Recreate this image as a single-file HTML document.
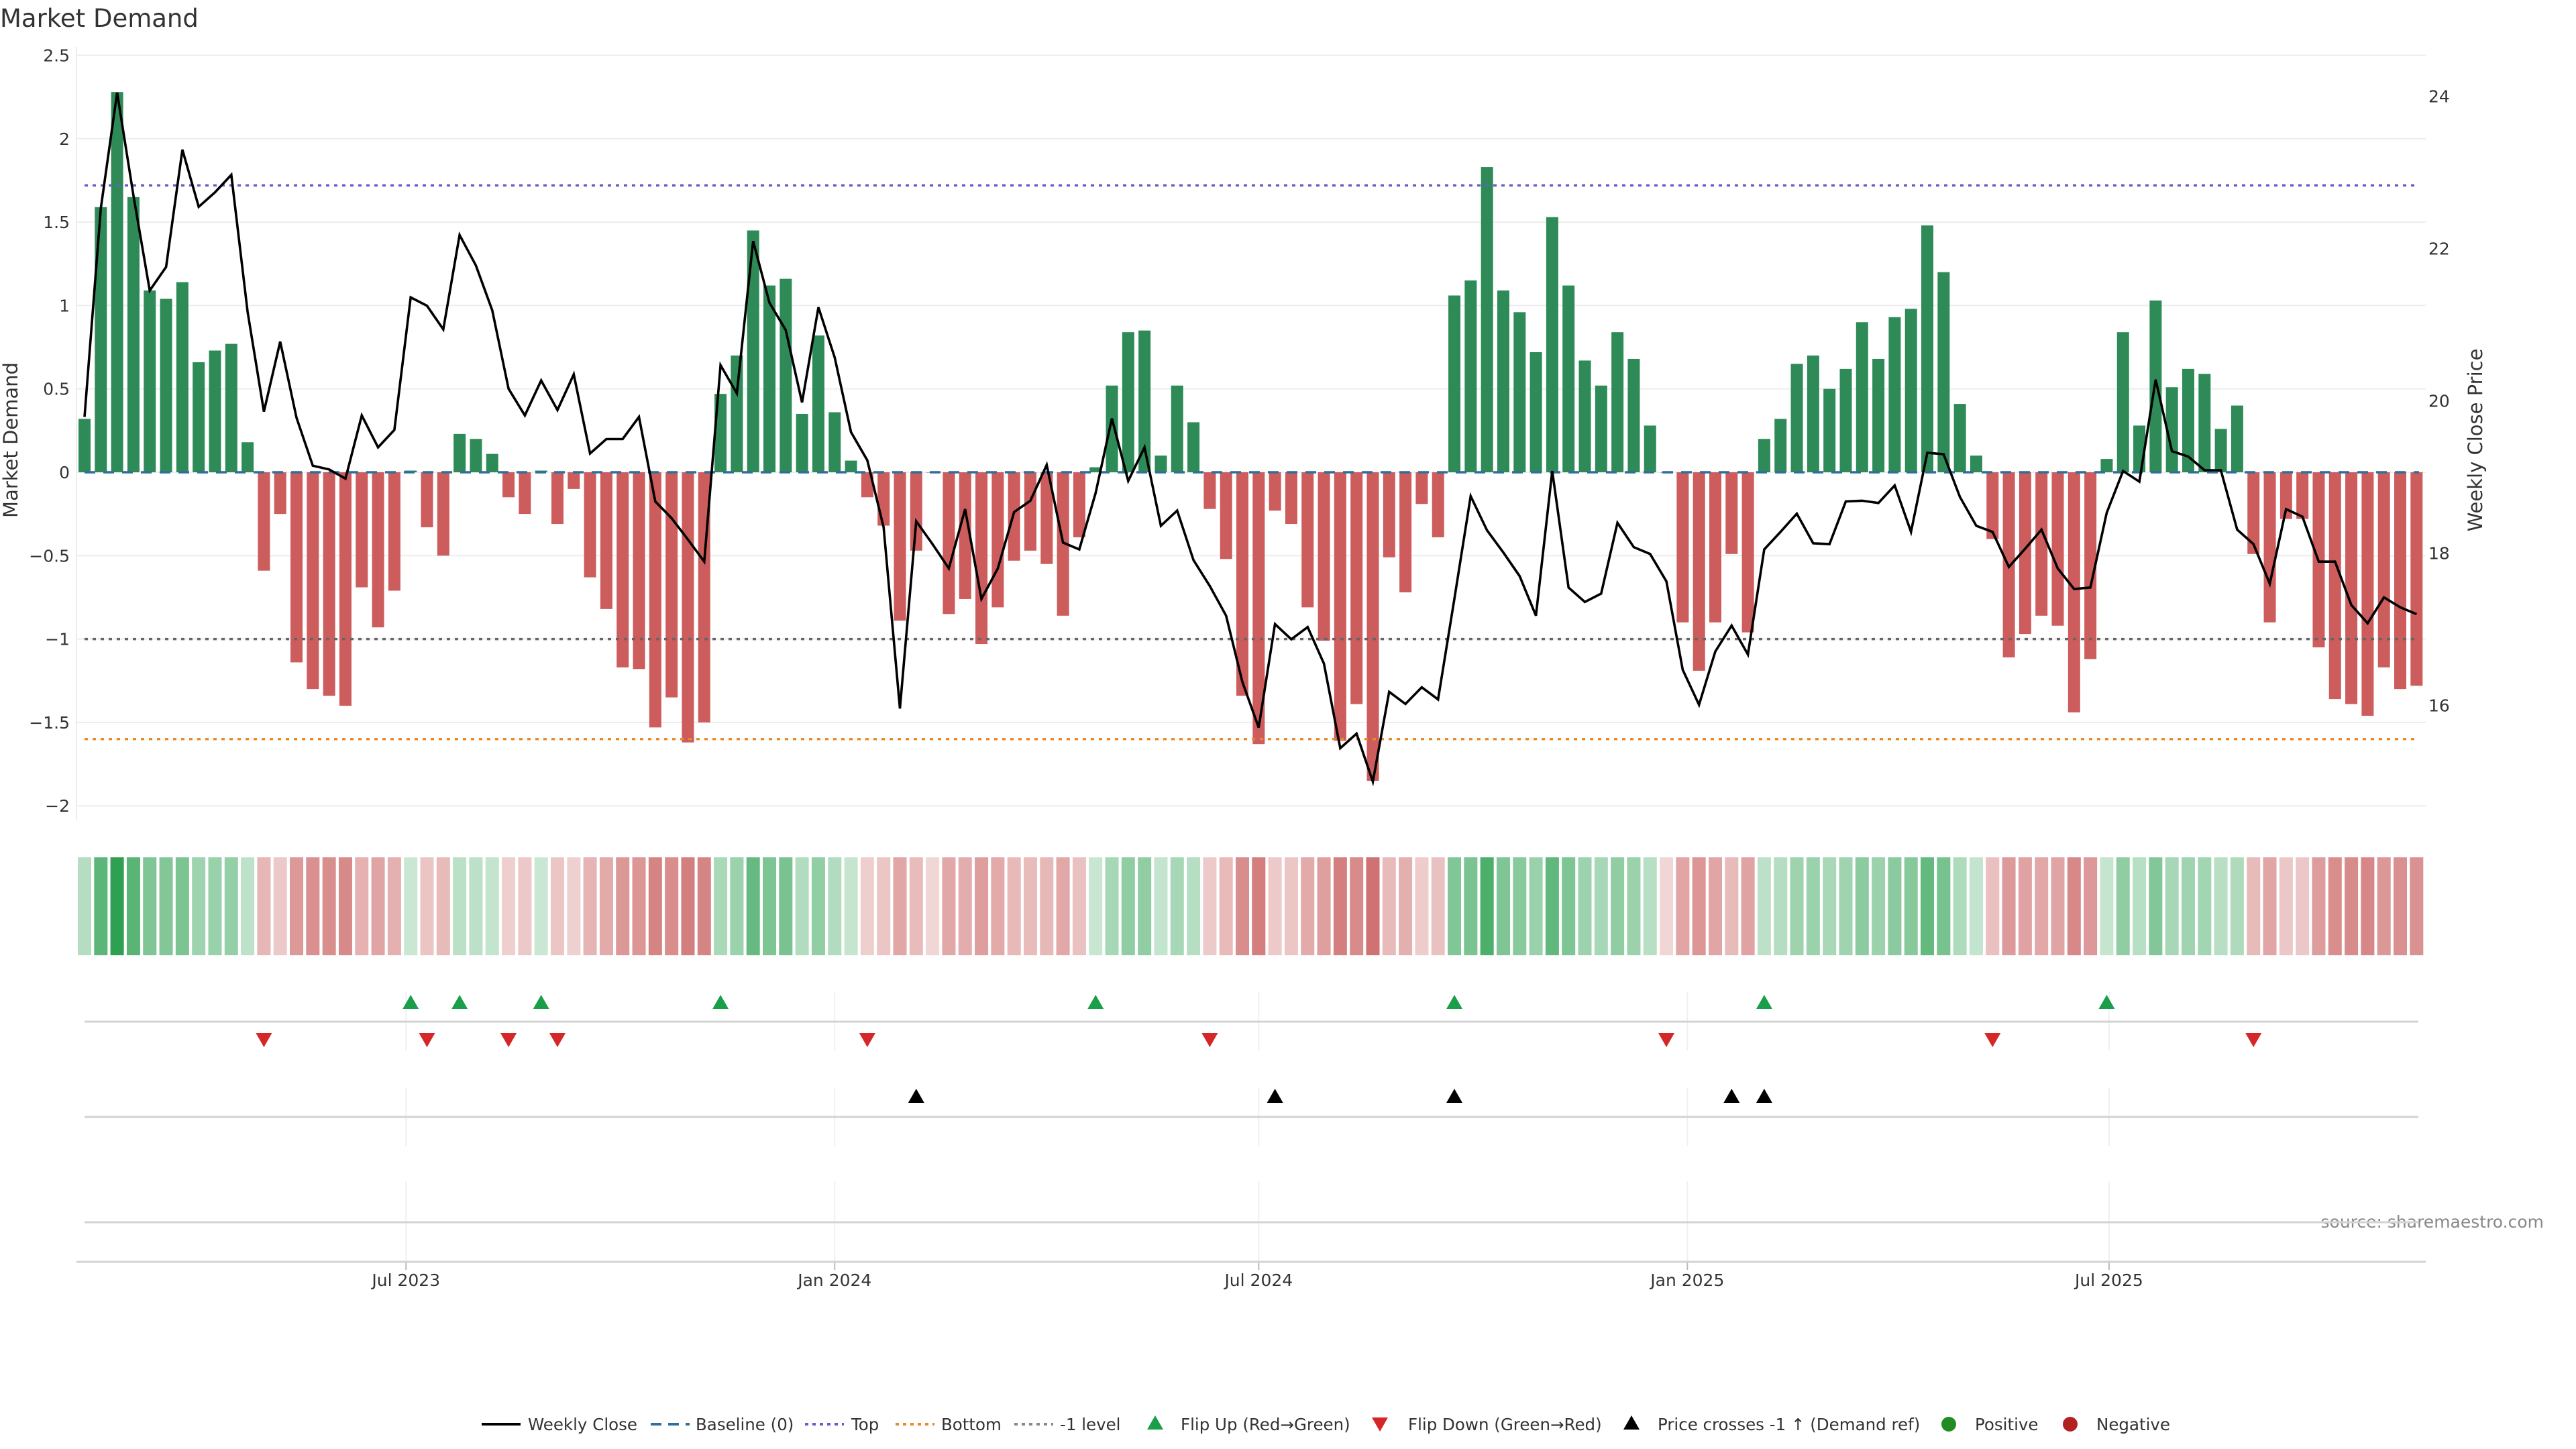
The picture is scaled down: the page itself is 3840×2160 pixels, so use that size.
<!DOCTYPE html>
<html><head><meta charset="utf-8"><title>Market Demand</title>
<style>
html,body{margin:0;padding:0;background:#fff;}
svg{display:block;font-family:"DejaVu Sans","Liberation Sans",sans-serif;}
</style></head>
<body>
<svg id="chart" xmlns="http://www.w3.org/2000/svg" width="3840" height="2160" viewBox="0 0 3840 2160">
<rect x="0" y="0" width="3840" height="2160" fill="#ffffff"/>
<text x="0" y="40" font-size="37" fill="#333">Market Demand</text>
<text transform="translate(26,656) rotate(-90)" text-anchor="middle" font-size="29" fill="#333">Market Demand</text>
<text transform="translate(3700,656) rotate(-90)" text-anchor="middle" font-size="29" fill="#333">Weekly Close Price</text>
<text x="3792" y="1830" text-anchor="end" font-size="25" fill="#888">source: sharemaestro.com</text>
<g id="grid"></g>
<g id="bars"></g>
<g id="refs"></g>
<g id="priceg"></g>
<g id="heat"></g>
<g id="markers"></g>
<g id="axes"></g>
<g id="legend"></g>
</svg>
<script>
const demand = [0.32,1.59,2.28,1.65,1.09,1.04,1.14,0.66,0.73,0.77,0.18,
-0.59,-0.25,-1.14,-1.30,-1.34,-1.40,-0.69,-0.93,-0.71,
0.01,-0.33,-0.50,0.23,0.20,0.11,-0.15,-0.25,0.01,-0.31,-0.10,-0.63,-0.82,-1.17,-1.18,-1.53,-1.35,-1.62,-1.50,
0.47,0.70,1.45,1.12,1.16,0.35,0.82,0.36,0.07,
-0.15,-0.32,-0.89,-0.47,0,-0.85,-0.76,-1.03,-0.81,-0.53,-0.47,-0.55,-0.86,-0.39,
0.03,0.52,0.84,0.85,0.10,0.52,0.30,
-0.22,-0.52,-1.34,-1.63,-0.23,-0.31,-0.81,-1.01,-1.61,-1.39,-1.85,-0.51,-0.72,-0.19,-0.39,
1.06,1.15,1.83,1.09,0.96,0.72,1.53,1.12,0.67,0.52,0.84,0.68,
0.28,0,
-0.90,-1.19,-0.90,-0.49,-0.96,
0.20,0.32,0.65,0.70,0.50,0.62,0.90,0.68,0.93,0.98,1.48,1.20,0.41,0.10,
-0.40,-1.11,-0.97,-0.86,-0.92,-1.44,-1.12,
0.08,0.84,0.28,1.03,0.51,0.62,0.59,0.26,0.40,
-0.49,-0.90,-0.28,-0.28,-1.05,-1.36,-1.39,-1.46,-1.17,-1.30,-1.28];
const price = [19.79,22.53,24.05,22.70,21.45,21.76,23.30,22.55,22.74,22.97,21.17,19.86,20.78,19.78,19.15,19.10,18.98,19.81,19.39,19.62,21.36,21.25,20.94,22.18,21.78,21.19,20.16,19.81,20.27,19.88,20.35,19.31,19.50,19.50,19.79,18.68,18.46,18.18,17.89,20.47,20.10,22.10,21.29,20.93,19.98,21.23,20.57,19.59,19.22,
18.34,15.96,18.42,18.12,17.80,18.58,17.40,17.80,18.54,18.69,19.16,18.14,18.05,18.79,19.77,18.95,19.39,18.36,18.56,17.91,17.57,17.18,16.31,15.71,17.07,16.87,17.03,16.55,15.44,15.63,15.00,16.18,16.02,16.24,16.08,17.40,18.75,18.30,18.01,17.70,17.18,19.08,17.55,17.36,17.47,18.40,18.08,
17.99,17.63,16.47,16.01,16.71,17.05,16.67,18.05,18.28,18.52,18.13,18.12,18.68,18.69,18.66,18.89,18.28,19.32,19.30,18.74,18.36,18.28,17.82,18.06,18.31,17.80,17.53,17.55,18.53,19.08,18.94,20.28,19.34,19.27,19.09,19.09,18.31,18.12,17.60,18.58,18.48,17.89,17.89,17.32,17.08,17.42,17.29,17.20];
const priceCrossIdx = [51,73,84,101,103];
const leftTicks = [2.5,2,1.5,1,0.5,0,-0.5,-1,-1.5,-2];
const rightTicks = [16,18,20,22,24];
const dateTicks = ["2023-07-01","2024-01-01","2024-07-01","2025-01-01","2025-07-01"];
const dateTickLabels = ["Jul 2023","Jan 2024","Jul 2024","Jan 2025","Jul 2025"];
const startDate = "2023-02-13";
const topLevel = 1.72, bottomLevel = -1.6, minusOneLevel = -1;

const NS = "http://www.w3.org/2000/svg";
function mk(tag, attrs, parent){ const e=document.createElementNS(NS,tag); for(const k in attrs) e.setAttribute(k,attrs[k]); parent.appendChild(e); return e; }
const X0 = 126, STEP = 24.31, PLOT_L = 114, PLOT_R = 3616;
function xAt(i){ return X0 + STEP*i; }
function xDate(s){ const d=(Date.parse(s)-Date.parse(startDate))/86400000; return X0 + d*STEP/7; }
function yD(v){ return 704 - v*248.6; }
function yP(p){ return 597.7 - (p-20)*113.5; }

const grid=document.getElementById('grid'), bars=document.getElementById('bars'), refs=document.getElementById('refs'),
 pg=document.getElementById('priceg'), heat=document.getElementById('heat'), mg=document.getElementById('markers'),
 axes=document.getElementById('axes'), lg=document.getElementById('legend');

leftTicks.forEach(t=>{
  const l=mk('line',{x1:PLOT_L,x2:PLOT_R,y1:yD(t),y2:yD(t),stroke:'#ededed','stroke-width':2},grid);
  
  
  const tx=mk('text',{x:104,y:yD(t)+9,'text-anchor':'end','font-size':25,fill:'#333'},axes);
  tx.textContent = (t<0?'\u2212':'')+Math.abs(t);
  
  
});
rightTicks.forEach(t=>{
  const tx=mk('text',{x:3620,y:yP(t)+9,'font-size':25,fill:'#333'},axes);
  tx.textContent=String(t);
  
  
});
const ax=mk('line',{x1:PLOT_L,x2:PLOT_L,y1:70,y2:1223,stroke:'#ececec','stroke-width':2},axes);



demand.forEach((v,i)=>{
  const y=Math.min(yD(v),yD(0)), h=Math.abs(yD(v)-yD(0));
  const r=mk('rect',{x:xAt(i)-9,y:y,width:18,height:Math.max(h,0.5),fill:v>=0?'#2e8b57':'#cd5c5c'},bars);
  
  
});

function refLine(v,color,name,dash){
  const l=mk('line',{x1:126,x2:3606,y1:yD(v),y2:yD(v),stroke:color,'stroke-width':3.5,'stroke-dasharray':dash},refs);
  
  
}
refLine(topLevel,'#6a5acd','top-line','5,7');
refLine(bottomLevel,'#e8892a','bottom-line','5,7');
refLine(minusOneLevel,'#666666','minus-one-line','5,7');
refLine(0,'#2f6f9a','baseline-zero','16,12');

const pts=price.map((p,i)=>xAt(i).toFixed(1)+','+yP(p).toFixed(1)).join(' ');
const pl=mk('polyline',{points:pts,fill:'none',stroke:'#000','stroke-width':3.6,'stroke-linejoin':'miter'},pg);



demand.forEach((v,i)=>{
  const t=Math.min(Math.abs(v)/2.3,1), a=0.25+0.75*t;
  const base=v>0?[44,160,80]:[200,90,90];
  const c=base.map(b=>Math.round(255-(255-b)*a));
  const r=mk('rect',{x:xAt(i)-10,y:1278,width:20,height:146,fill:'rgb('+c.join(',')+')'},heat);
  
  
});

dateTicks.forEach((d,k)=>{
  const x=xDate(d);
  [[1478,1566],[1621,1708],[1761,1880]].forEach(s=>{
    const l=mk('line',{x1:x,x2:x,y1:s[0],y2:s[1],stroke:'#eef0f4','stroke-width':2},mg);
    
    
  });
  const tk=mk('line',{x1:x,x2:x,y1:1881,y2:1893,stroke:'#bbb','stroke-width':2},axes);
  
  
  const tx=mk('text',{x:x,y:1917,'text-anchor':'middle','font-size':25,fill:'#333'},axes);
  tx.textContent=dateTickLabels[k];
  
  
});
[1523,1665,1822].forEach(y=>{
  const l=mk('line',{x1:126,x2:3605,y1:y,y2:y,stroke:'#d3d3d3','stroke-width':3},mg);
  
  
});
const xl=mk('line',{x1:114,x2:3616,y1:1881,y2:1881,stroke:'#d3d3d3','stroke-width':3},axes);



function tri(x,y,up,color,parent){
  const p=up?`${x-12},${y+10} ${x+12},${y+10} ${x},${y-11}`:`${x-12},${y-10} ${x+12},${y-10} ${x},${y+11}`;
  return mk('polygon',{points:p,fill:color},parent);
}
for(let i=1;i<demand.length;i++){
  if(demand[i]>0 && demand[i-1]<=0){
    const t=tri(xAt(i),1494,true,'#1a9e4a',mg);
    
    
  }
  if(demand[i]<=0 && demand[i-1]>0){
    const t=tri(xAt(i),1550,false,'#d62728',mg);
    
    
  }
}
priceCrossIdx.forEach(i=>{
  const t=tri(xAt(i),1634,true,'#000',mg);
  
  
});

const LY=2123;
function ltext(x,s){ const t=mk('text',{x:x,y:LY+9,'font-size':24.5,fill:'#333'},lg); t.textContent=s;   }
function lline(x,color,dash,name){ const l=mk('line',{x1:x,x2:x+58,y1:LY,y2:LY,stroke:color,'stroke-width':4,'stroke-dasharray':dash},lg);   }
lline(718,'#000','none','legend-weekly-close'); ltext(787,'Weekly Close');
lline(970,'#2f6f9a','16,10','legend-baseline'); ltext(1037,'Baseline (0)');
lline(1200,'#6a5acd','5,6','legend-top'); ltext(1269,'Top');
lline(1335,'#e8892a','5,6','legend-bottom'); ltext(1403,'Bottom');
lline(1512,'#888','5,6','legend-minus-one'); ltext(1580,'-1 level');
let t1=tri(1722,LY-2,true,'#1a9e4a',lg);  
ltext(1760,'Flip Up (Red\u2192Green)');
let t2=tri(2057,LY,false,'#d62728',lg);  
ltext(2099,'Flip Down (Green\u2192Red)');
let t3=tri(2432,LY-2,true,'#000',lg);  
ltext(2471,'Price crosses -1 \u2191 (Demand ref)');
let c1=mk('circle',{cx:2905,cy:LY,r:11,fill:'#228b22'},lg);  
ltext(2944,'Positive');
let c2=mk('circle',{cx:3086,cy:LY,r:11,fill:'#b22222'},lg);  
ltext(3125,'Negative');
</script>
</body></html>
